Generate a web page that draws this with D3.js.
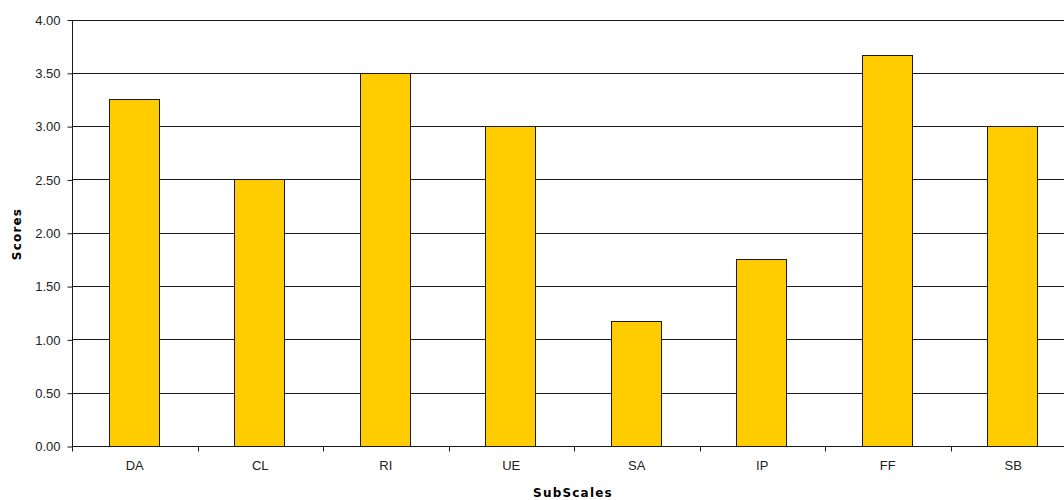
<!DOCTYPE html>
<html>
<head>
<meta charset="utf-8">
<script src="https://cdn.jsdelivr.net/npm/d3@7/dist/d3.min.js"></script>
<style>
  html, body { margin: 0; padding: 0; background: #fff; }
  svg { display: block; }
</style>
</head>
<body>
<svg id="chart" width="1064" height="500"></svg>
<script>
// Subscale scores
const categories = ["DA", "CL", "RI", "UE", "SA", "IP", "FF", "SB"];
const scores = [3.25, 2.50, 3.50, 3.00, 1.17, 1.75, 3.67, 3.00];
const yTicks = [0, 0.5, 1, 1.5, 2, 2.5, 3, 3.5, 4];

const svg = d3.select("#chart");
const plotLeft = 72, plotTop = 19.5, plotBottom = 446, catW = 125.5;

const x = d3.scaleBand()
  .domain(categories)
  .range([plotLeft, plotLeft + catW * categories.length])
  .paddingInner(0).paddingOuter(0);

const y = d3.scaleLinear().domain([0, 4]).range([plotBottom, plotTop]);

const barW = 50;

// horizontal gridlines
svg.append("g")
  .selectAll("line")
  .data(yTicks.filter(d => d > 0))
  .join("line")
  .attr("x1", plotLeft).attr("x2", x.range()[1])
  .attr("y1", d => Math.round(y(d)) + 0.5)
  .attr("y2", d => Math.round(y(d)) + 0.5)
  .attr("stroke", "#1a1a1a")
  .attr("stroke-width", 1);

// bars
svg.append("g")
  .selectAll("rect")
  .data(categories.map((c, i) => ({ c, v: scores[i] })))
  .join("rect")
  .attr("x", d => Math.round(x(d.c) + x.bandwidth() / 2 - barW / 2 - 1) + 0.5)
  .attr("width", barW)
  .attr("y", d => Math.round(y(d.v)) + 0.5)
  .attr("height", d => Math.round(plotBottom) - Math.round(y(d.v)))
  .attr("fill", "#FFCC00")
  .attr("stroke", "#1a1a1a")
  .attr("stroke-width", 1);

// y axis
const yAxis = d3.axisLeft(y)
  .tickValues(yTicks)
  .tickFormat(d3.format(".2f"))
  .tickSize(5)
  .tickPadding(7);

const gy = svg.append("g")
  .attr("transform", `translate(${plotLeft + 0.5},0.5)`)
  .call(yAxis);
gy.select(".domain").attr("stroke", "#1a1a1a").attr("d", `M0,${plotTop}V${plotBottom}`);
gy.selectAll(".tick line").attr("stroke", "#1a1a1a");
gy.selectAll(".tick text")
  .attr("font-family", "'Liberation Sans', Arial, sans-serif")
  .attr("font-size", 13)
  .attr("fill", "#222");

// x axis
const xAxis = d3.axisBottom(x).tickSize(0).tickPadding(14);
const gx = svg.append("g")
  .attr("transform", `translate(0,${plotBottom + 0.5})`)
  .call(xAxis);
gx.select(".domain").attr("stroke", "#1a1a1a").attr("d", `M${plotLeft},0H${x.range()[1]}`);
gx.selectAll(".tick text")
  .attr("font-family", "'Liberation Sans', Arial, sans-serif")
  .attr("font-size", 13)
  .attr("fill", "#222");

// category separator ticks
gx.append("g")
  .selectAll("line")
  .data(d3.range(0, categories.length + 1))
  .join("line")
  .attr("x1", i => Math.round(plotLeft + i * catW) + 0.5)
  .attr("x2", i => Math.round(plotLeft + i * catW) + 0.5)
  .attr("y1", 0).attr("y2", 5)
  .attr("stroke", "#1a1a1a");

// axis titles
svg.append("text")
  .attr("x", 573)
  .attr("y", 497)
  .attr("text-anchor", "middle")
  .attr("font-family", "'DejaVu Sans', sans-serif")
  .attr("font-weight", "bold")
  .attr("font-size", 12)
  .attr("letter-spacing", "1.2px")
  .attr("fill", "#000")
  .text("SubScales");

svg.append("text")
  .attr("transform", "translate(21,234) rotate(-90)")
  .attr("text-anchor", "middle")
  .attr("font-family", "'DejaVu Sans', sans-serif")
  .attr("font-weight", "bold")
  .attr("font-size", 12)
  .attr("letter-spacing", "1.2px")
  .attr("fill", "#000")
  .text("Scores");
</script>
</body>
</html>
